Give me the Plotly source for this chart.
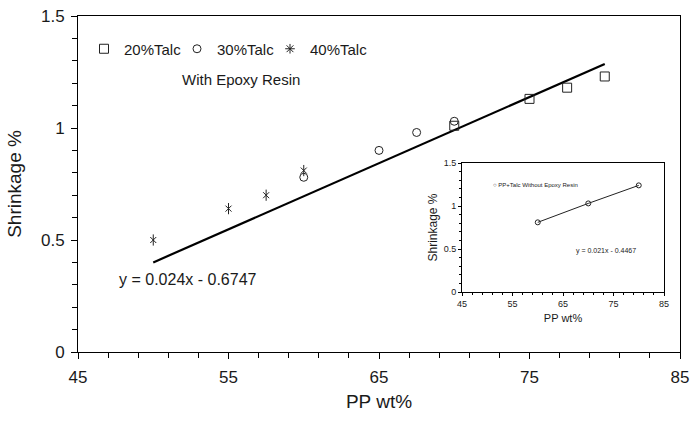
import plotly.graph_objects as go

# ---- data ----
talc20_x = [70, 75, 77.5, 80]
talc20_y = [1.01, 1.13, 1.18, 1.23]
talc30_x = [60, 65, 67.5, 70]
talc30_y = [0.78, 0.90, 0.98, 1.03]
talc40_x = [50, 55, 57.5, 60]
talc40_y = [0.50, 0.64, 0.70, 0.81]
fit_x = [50, 80]
fit_y = [0.40, 1.286]
fit_label = "y = 0.024x - 0.6747"

inset_x = [60, 70, 80]
inset_y = [0.81, 1.03, 1.24]
inset_label = "y = 0.021x - 0.4467"
inset_legend = "PP+Talc Without Epoxy Resin"

x_ticks = [45, 55, 65, 75, 85]
y_ticks = [0, 0.5, 1, 1.5]
y_ticktext = ["0", "0.5", "1", "1.5"]

W, H = 692, 422
FONT = "Liberation Sans, Arial, sans-serif"
INK = "#1a1a1a"

fig = go.Figure()

fig.add_trace(go.Scatter(x=fit_x, y=fit_y, mode="lines",
                         line=dict(color="black", width=2.2),
                         showlegend=False, hoverinfo="skip"))
fig.add_trace(go.Scatter(x=talc20_x, y=talc20_y, mode="markers", name="20%Talc",
                         legendwidth=48,
                         marker=dict(symbol="square-open", size=9,
                                     color="#222", line=dict(width=1))))
fig.add_trace(go.Scatter(x=talc30_x, y=talc30_y, mode="markers", name="30%Talc",
                         legendwidth=48,
                         marker=dict(symbol="circle-open", size=8,
                                     color="#222", line=dict(width=1))))
fig.add_trace(go.Scatter(x=talc40_x, y=talc40_y, mode="markers", name="40%Talc",
                         legendgroup="t40", showlegend=False,
                         marker=dict(symbol="x-thin-open", size=6,
                                     color="#222", line=dict(width=1))))
fig.add_trace(go.Scatter(x=talc40_x, y=talc40_y, mode="markers", name="40%Talc",
                         legendgroup="t40", showlegend=False,
                         marker=dict(symbol="line-ns-open", size=8,
                                     color="#222", line=dict(width=1))))
fig.add_trace(go.Scatter(x=[None], y=[None], mode="markers", name="40%Talc",
                         legendgroup="t40", legendwidth=75,
                         marker=dict(symbol="asterisk-open", size=8,
                                     color="#222", line=dict(width=1))))

# inset
fig.add_trace(go.Scatter(x=inset_x, y=inset_y, mode="lines+markers",
                         xaxis="x2", yaxis="y2", showlegend=False,
                         line=dict(color="#222", width=1),
                         marker=dict(symbol="circle-open", size=5,
                                     color="#222", line=dict(width=1))))

axis_common = dict(showline=True, linecolor="black", linewidth=1, mirror=True,
                   showgrid=False, zeroline=False, ticks="outside",
                   tickcolor="black", automargin=False)

fig.update_layout(
    width=W, height=H, autosize=False,
    margin=dict(l=0, r=0, t=0, b=0, autoexpand=False),
    paper_bgcolor="white", plot_bgcolor="white",
    font=dict(family=FONT, color=INK),
    xaxis=dict(domain=[78 / W, 680 / W], range=[45, 85],
               tickmode="array", tickvals=x_ticks, ticklen=6,
               ticklabelstandoff=4,
               minor=dict(dtick=2, tick0=45, ticks="outside", ticklen=5,
                          tickcolor="black"),
               tickfont=dict(size=17),
               title=dict(text="PP wt%", font=dict(size=19), standoff=8),
               **axis_common),
    yaxis=dict(domain=[70 / H, 406 / H], range=[0, 1.5],
               tickmode="array", tickvals=y_ticks, ticktext=y_ticktext,
               ticklen=6, ticklabelstandoff=3,
               minor=dict(dtick=0.1, tick0=0, ticks="outside", ticklen=5,
                          tickcolor="black"),
               tickfont=dict(size=17),
               title=dict(text="Shrinkage %", font=dict(size=19), standoff=14),
               **axis_common),
    xaxis2=dict(domain=[462 / W, 664 / W], range=[45, 85], anchor="y2",
                tickmode="array", tickvals=x_ticks, ticklen=3,
                minor=dict(dtick=2, tick0=45, ticks="outside", ticklen=2,
                           tickcolor="black"),
                tickfont=dict(size=9),
                title=dict(text="PP wt%", font=dict(size=11), standoff=6),
                **axis_common),
    yaxis2=dict(domain=[130 / H, 259 / H], range=[0, 1.5], anchor="x2",
                tickmode="array", tickvals=y_ticks, ticktext=y_ticktext,
                ticklen=3,
                minor=dict(dtick=0.1, tick0=0, ticks="outside", ticklen=2,
                           tickcolor="black"),
                tickfont=dict(size=9),
                title=dict(text="Shrinkage %", font=dict(size=12), standoff=3),
                **axis_common),
    legend=dict(orientation="h", x=84 / W, y=(H - 49) / H,
                xanchor="left", yanchor="middle",
                font=dict(size=15), bgcolor="rgba(0,0,0,0)",
                itemwidth=30),
    annotations=[
        dict(text="With Epoxy Resin", x=241 / W, y=(H - 80) / H,
             xref="paper", yref="paper", showarrow=False,
             xanchor="center", yanchor="middle",
             font=dict(size=15)),
        dict(text=fit_label, x=188 / W, y=(H - 279) / H,
             xref="paper", yref="paper", showarrow=False,
             xanchor="center", yanchor="middle",
             font=dict(size=16)),
        dict(text="○ " + inset_legend, x=491 / W, y=(H - 185) / H,
             xref="paper", yref="paper", showarrow=False,
             xanchor="left", yanchor="middle",
             font=dict(size=6)),
        dict(text=inset_label, x=606 / W, y=(H - 251) / H,
             xref="paper", yref="paper", showarrow=False,
             xanchor="center", yanchor="middle",
             font=dict(size=7)),
    ],
)

fig.write_html("out.html",
               config={"displayModeBar": False},
               post_script="document.body.style.margin='0';")
